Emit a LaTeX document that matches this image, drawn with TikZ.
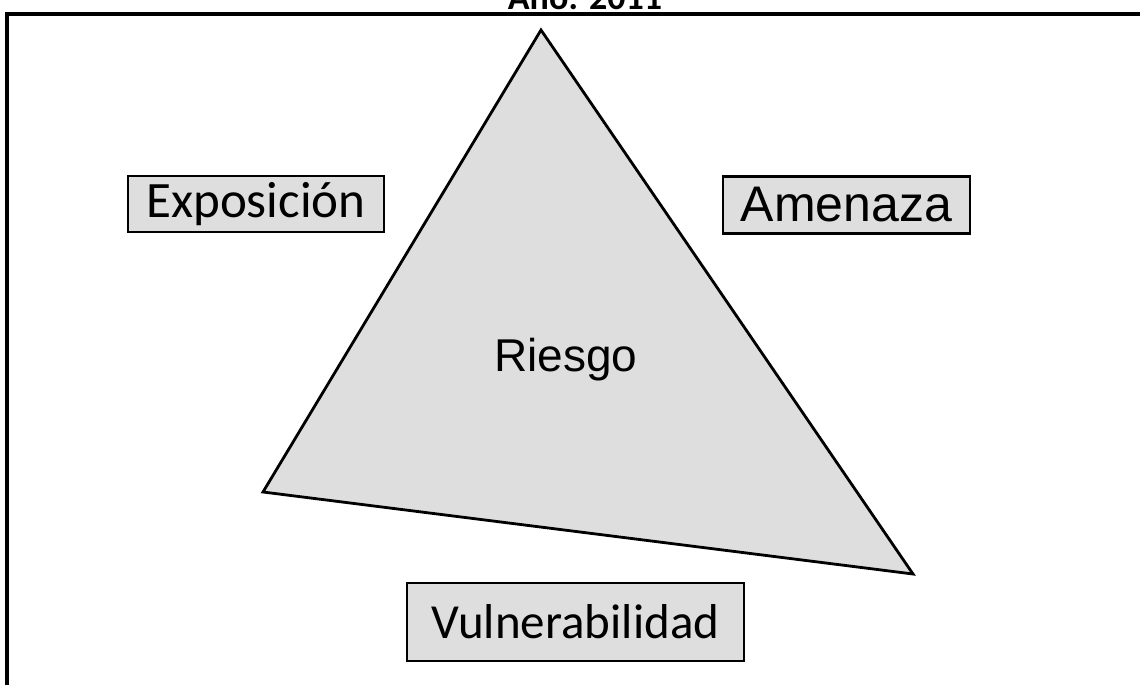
\documentclass[tikz,border=0pt]{standalone}
\usepackage{fontspec}
\setmainfont{Carlito}
\newfontfamily\arialfont{Liberation Sans}
\tikzset{
    shade/.style={fill=black!13},
    labelbox/.style={draw=black, line width=1.1pt, shade, inner sep=0pt},
}
\begin{document}
\begin{tikzpicture}[x=0.5pt, y=-0.5pt]
    \useasboundingbox (0, 0) rectangle (1140, 685);
    \clip (0, 0) rectangle (1140, 685);
    \node[anchor=base, font=\fontsize{18}{22}\selectfont\bfseries] (title) at (585, 10) {Año: 2011};
    \draw[line width=2pt] (7, 730) -- (7, 14) -- (1180, 14);
    % triangle
    \coordinate (top) at (541, 30);
    \coordinate (left) at (263, 492);
    \coordinate (right) at (913, 574);
    \draw[shade, line width=1.4pt, line join=miter] (top) -- (left) -- (right) -- cycle;
    \node[font=\arialfont\fontsize{23}{27}\selectfont] (riesgo) at (566, 360) {Riesgo};
    % boxes
    \node[labelbox, minimum width=128pt, minimum height=28pt, font=\fontsize{25.5}{30}\selectfont] (expo) at (256, 204) {Exposición};
    \node[labelbox, minimum width=123.5pt, minimum height=28.5pt, font=\arialfont\fontsize{25}{30}\selectfont] (amen) at (846.5, 205) {Amenaza};
    \node[labelbox, minimum width=168.5pt, minimum height=39pt, font=\fontsize{24.5}{29}\selectfont] (vuln) at (575.5, 622) {Vulnerabilidad};
\end{tikzpicture}
\end{document}
